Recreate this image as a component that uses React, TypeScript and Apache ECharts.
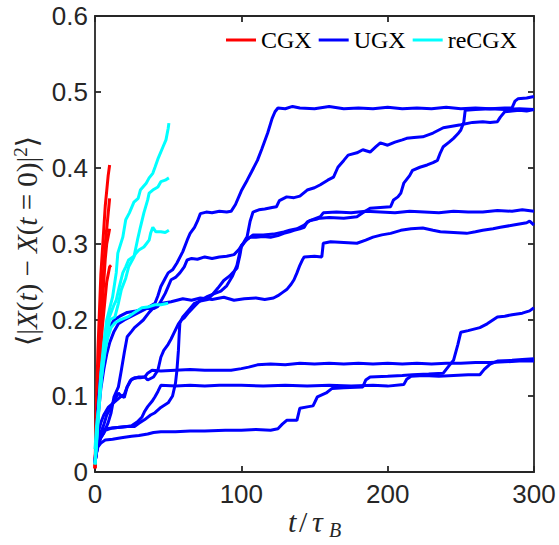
import React, { useEffect, useRef } from "react";
import * as echarts from "echarts";

// ---------- data (t/tau_B, MSD) ----------
const xTicks = [0, 100, 200, 300];
const yTicks = [0, 0.1, 0.2, 0.3, 0.4, 0.5, 0.6];
const legendNames = ["CGX", "UGX", "reCGX"];

const cgx1 = [[0,0.005],[0.5,0.05],[1,0.09],[2,0.16],[3,0.21],[4,0.26],[5,0.29],[6,0.32],[7,0.35],[8,0.37],[9,0.39],[10,0.404]];
const cgx2 = [[0,0.005],[1,0.07],[2,0.12],[3,0.17],[4,0.21],[5,0.24],[6,0.27],[7,0.3],[8,0.32],[9,0.34],[10,0.36]];
const cgx3 = [[0,0.005],[1,0.05],[2,0.09],[3,0.13],[4,0.16],[5,0.19],[6,0.21],[7,0.23],[8,0.25],[9,0.26],[10,0.27],[11,0.272]];
const cgx4 = [[0,0.005],[1,0.06],[2,0.1],[3,0.15],[4,0.19],[5,0.22],[6,0.25],[7,0.28],[8,0.3],[9,0.31],[10,0.32]];

const ugxA = [[0,0.012],[1,0.045],[2,0.07],[3,0.09],[4,0.11],[6,0.135],[8,0.155],[10,0.17],[13,0.185],[16,0.195],[20,0.2],[25,0.205],[30,0.21],[35,0.215],[41,0.222],[43,0.232],[45,0.244],[48,0.255],[50,0.262],[53,0.266],[56,0.275],[60,0.29],[63,0.305],[65,0.314],[68,0.322],[70,0.33],[72,0.34],[76,0.342],[80,0.341],[85,0.343],[90,0.342],[93,0.343],[96,0.352],[100,0.37],[104,0.384],[107,0.395],[111,0.41],[114,0.425],[118,0.446],[121,0.465],[123,0.474],[125,0.479],[130,0.478],[135,0.481],[140,0.479],[150,0.478],[160,0.481],[170,0.478],[180,0.479],[190,0.478],[200,0.48],[210,0.478],[220,0.479],[230,0.478],[240,0.48],[250,0.478],[260,0.479],[270,0.478],[280,0.479],[285,0.479],[287,0.488],[289,0.491],[295,0.492],[300,0.494]];
const ugxB = [[0,0.012],[1,0.05],[2,0.085],[3,0.11],[4,0.13],[6,0.155],[8,0.175],[10,0.19],[13,0.2],[17,0.205],[22,0.21],[28,0.212],[34,0.215],[40,0.215],[43,0.218],[46,0.228],[48,0.235],[50,0.244],[52,0.253],[55,0.256],[58,0.262],[61,0.27],[63,0.279],[66,0.281],[70,0.28],[75,0.283],[80,0.281],[85,0.283],[90,0.284],[95,0.286],[98,0.292],[101,0.3],[104,0.31],[106,0.33],[108,0.342],[112,0.345],[116,0.346],[121,0.348],[124,0.349],[126,0.357],[131,0.362],[136,0.361],[140,0.363],[145,0.371],[150,0.374],[154,0.378],[159,0.384],[163,0.388],[166,0.401],[170,0.41],[173,0.417],[179,0.42],[183,0.424],[188,0.421],[192,0.428],[195,0.433],[200,0.43],[205,0.434],[210,0.437],[213,0.439],[218,0.44],[224,0.441],[231,0.446],[238,0.453],[244,0.455],[250,0.457],[258,0.46],[265,0.461],[270,0.46],[275,0.461],[277,0.467],[280,0.474],[285,0.475],[290,0.476],[295,0.475],[300,0.477]];
const ugxC = [[0,0.012],[1,0.03],[2,0.045],[4,0.053],[7,0.057],[12,0.058],[17,0.059],[22,0.06],[27,0.06],[30,0.064],[34,0.069],[38,0.075],[41,0.078],[45,0.085],[50,0.091],[53,0.1],[55,0.117],[56,0.134],[57,0.16],[57.5,0.18],[58,0.196],[60,0.204],[64,0.213],[68,0.222],[72,0.225],[77,0.227],[80,0.233],[84,0.242],[88,0.252],[92,0.258],[97,0.268],[99,0.285],[100,0.296],[103,0.305],[106,0.309],[110,0.309],[115,0.31],[120,0.309],[125,0.311],[129,0.314],[133,0.316],[136,0.318],[140,0.32],[143,0.322],[145,0.329],[150,0.333],[154,0.336],[156,0.341],[165,0.342],[175,0.341],[185,0.343],[195,0.342],[205,0.341],[215,0.343],[225,0.342],[235,0.341],[245,0.343],[255,0.342],[265,0.342],[275,0.344],[285,0.343],[292,0.345],[300,0.343]];
const ugxD = [[0,0.012],[1,0.025],[2,0.035],[4,0.045],[6,0.051],[9,0.065],[11,0.078],[13,0.099],[16,0.112],[18,0.134],[20,0.157],[22,0.178],[25,0.185],[27,0.19],[30,0.195],[33,0.2],[37,0.21],[41,0.218],[46,0.222],[52,0.224],[60,0.228],[66,0.226],[72,0.229],[80,0.227],[88,0.23],[95,0.226],[102,0.228],[110,0.229],[116,0.227],[122,0.229],[125,0.232],[128,0.236],[131,0.24],[134,0.247],[136,0.253],[138,0.262],[140,0.272],[142,0.28],[143,0.283],[150,0.284],[155,0.283],[156,0.301],[161,0.303],[170,0.302],[179,0.301],[185,0.305],[190,0.309],[196,0.312],[202,0.314],[209,0.318],[216,0.32],[224,0.321],[231,0.318],[236,0.316],[245,0.315],[254,0.314],[260,0.316],[265,0.318],[272,0.32],[277,0.322],[286,0.325],[292,0.327],[295,0.328],[297,0.33],[300,0.325]];
const ugxE = [[0,0.012],[1,0.035],[2,0.05],[4,0.065],[6,0.075],[9,0.085],[12,0.09],[15,0.095],[18,0.1],[20,0.098],[22,0.112],[25,0.122],[30,0.125],[34,0.125],[36,0.121],[40,0.125],[43,0.134],[45,0.151],[47,0.16],[50,0.168],[52,0.175],[54,0.183],[57,0.195],[59,0.2],[61,0.203],[64,0.21],[68,0.218],[72,0.226],[77,0.231],[82,0.235],[86,0.238],[90,0.245],[94,0.258],[97,0.272],[100,0.298],[104,0.306],[108,0.312],[115,0.312],[122,0.313],[129,0.316],[133,0.318],[138,0.32],[143,0.325],[147,0.331],[152,0.333],[154,0.334],[160,0.335],[170,0.334],[179,0.336],[183,0.341],[188,0.347],[195,0.348],[202,0.349],[204,0.358],[207,0.362],[209,0.367],[211,0.38],[215,0.39],[217,0.397],[222,0.401],[227,0.404],[231,0.407],[234,0.41],[236,0.42],[238,0.428],[242,0.434],[245,0.439],[248,0.445],[250,0.45],[252,0.46],[253,0.476],[260,0.477],[270,0.478],[280,0.477],[290,0.478],[300,0.477]];
const ugxL1 = [[0,0.012],[1,0.03],[2,0.04],[4,0.052],[6,0.062],[8,0.075],[10,0.082],[12,0.09],[14,0.097],[16,0.104],[18,0.1],[20,0.102],[22,0.112],[24,0.12],[27,0.124],[31,0.124],[34,0.125],[36,0.13],[39,0.134],[45,0.133],[55,0.134],[65,0.135],[75,0.134],[85,0.134],[93,0.134],[100,0.136],[105,0.138],[111,0.141],[120,0.142],[130,0.141],[140,0.143],[150,0.142],[160,0.143],[170,0.142],[180,0.143],[190,0.142],[200,0.143],[210,0.142],[220,0.143],[230,0.142],[240,0.143],[250,0.143],[260,0.144],[270,0.144],[280,0.145],[290,0.146],[300,0.146]];
const ugxL2 = [[0,0.012],[1,0.025],[2,0.035],[4,0.045],[7,0.055],[12,0.058],[17,0.059],[22,0.06],[25,0.061],[29,0.066],[32,0.072],[34,0.08],[36,0.086],[39,0.093],[41,0.099],[43,0.106],[45,0.114],[55,0.113],[65,0.114],[75,0.113],[85,0.114],[100,0.114],[115,0.113],[130,0.114],[145,0.113],[160,0.114],[175,0.113],[190,0.114],[200,0.113],[211,0.115],[213,0.122],[216,0.126],[225,0.127],[235,0.126],[245,0.127],[255,0.128],[263,0.128],[266,0.135],[270,0.142],[275,0.146],[285,0.147],[292,0.148],[300,0.149]];
const ugxL3 = [[0,0.012],[1,0.025],[2,0.033],[4,0.038],[7,0.042],[12,0.043],[18,0.045],[25,0.047],[30,0.048],[36,0.05],[40,0.052],[45,0.053],[55,0.053],[65,0.054],[75,0.054],[89,0.055],[100,0.055],[110,0.056],[120,0.055],[125,0.057],[128,0.063],[131,0.068],[138,0.068],[140,0.084],[146,0.086],[149,0.087],[152,0.099],[158,0.104],[162,0.11],[170,0.111],[183,0.112],[185,0.121],[188,0.125],[200,0.126],[210,0.127],[217,0.128],[228,0.129],[238,0.13],[242,0.14],[245,0.147],[248,0.168],[250,0.184],[255,0.186],[263,0.19],[268,0.195],[275,0.204],[280,0.205],[285,0.207],[292,0.209],[297,0.212],[300,0.216]];

const recgx1 = [[0,0.01],[1,0.04],[2,0.07],[3,0.1],[4,0.13],[5,0.15],[6,0.17],[8,0.2],[10,0.215],[12,0.23],[14.5,0.262],[15.6,0.288],[19,0.309],[21,0.332],[23.5,0.341],[26.6,0.355],[29.5,0.36],[31,0.371],[35,0.38],[37,0.387],[39.5,0.393],[41,0.401],[43,0.412],[46.5,0.428],[48.5,0.437],[50,0.452],[50.5,0.459]];
const recgx2 = [[0,0.01],[1,0.035],[2,0.065],[3,0.09],[4,0.115],[5,0.135],[6,0.15],[8,0.175],[10,0.2],[13.6,0.204],[16,0.222],[18,0.24],[21,0.255],[23,0.27],[26.6,0.283],[29,0.305],[31,0.322],[33.4,0.341],[36,0.358],[37,0.367],[39.5,0.371],[43,0.375],[45,0.382],[48,0.384],[50.5,0.387]];
const recgx3 = [[0,0.01],[1,0.04],[2,0.07],[3,0.1],[4,0.125],[5,0.145],[7,0.175],[9,0.2],[11,0.21],[13,0.22],[14.5,0.226],[16.5,0.243],[19,0.262],[21,0.27],[23,0.279],[26.6,0.284],[28,0.288],[30,0.292],[33.4,0.296],[35,0.3],[37,0.305],[38,0.314],[39.5,0.322],[41.6,0.316],[45,0.316],[48,0.315],[50.5,0.318]];
const recgx4 = [[0,0.03],[1,0.06],[2.3,0.082],[3.5,0.105],[4.5,0.125],[5.5,0.14],[6.8,0.157],[8,0.17],[9,0.178],[11,0.19],[13.6,0.196],[17,0.2],[22.5,0.204],[27,0.21],[32,0.216],[36,0.217],[41,0.22],[45,0.22],[50,0.222]];

const cgxRuns = [cgx1, cgx2, cgx3, cgx4];
const ugxRuns = [ugxA, ugxB, ugxC, ugxD, ugxE, ugxL1, ugxL2, ugxL3];
const recgxRuns = [recgx1, recgx2, recgx3, recgx4];

const COLORS: Record<string, string> = { CGX: "#ff0000", UGX: "#0000ff", reCGX: "#00ffff" };
const AX = "#262626";
const SERIF = "'Liberation Serif', 'DejaVu Serif', serif";
const SANS = "'Liberation Sans', Arial, sans-serif";

export default function App() {
  const ref = useRef<HTMLDivElement>(null);
  useEffect(() => {
    const chart = echarts.init(ref.current!, null, { renderer: "svg" });
    const mk = (name: string, data: number[][]) => ({
      type: "line",
      name,
      data,
      symbol: "none",
      showSymbol: false,
      smooth: false,
      xAxisIndex: 0,
      yAxisIndex: 0,
      lineStyle: { color: COLORS[name], width: 3 },
      itemStyle: { color: COLORS[name] },
      emphasis: { disabled: true },
    });
    const series = [
      ...cgxRuns.map((d) => mk("CGX", d)),
      ...ugxRuns.map((d) => mk("UGX", d)),
      ...recgxRuns.map((d) => mk("reCGX", d)),
    ];
    const axisCommon = {
      type: "value",
      splitLine: { show: false },
      axisLine: { show: true, onZero: false, lineStyle: { color: AX, width: 1.8 } },
      axisTick: { show: true, inside: true, length: 6, lineStyle: { color: AX, width: 1.8 } },
    };
    const xMin = xTicks[0], xMax = xTicks[xTicks.length - 1], xInt = xTicks[1] - xTicks[0];
    const yMin = yTicks[0], yMax = yTicks[yTicks.length - 1], yInt = 0.1;
    const it = (s: number) => ({ fontFamily: SERIF, fontSize: s, fontStyle: "italic", fill: AX });
    const nt = (s: number) => ({ fontFamily: SERIF, fontSize: s, fill: AX });
    chart.setOption({
      animation: false,
      backgroundColor: "#ffffff",
      grid: { left: 95, right: 25, top: 16, bottom: 73, containLabel: false },
      legend: {
        data: legendNames,
        right: 37,
        top: 23,
        icon: "rect",
        itemWidth: 30,
        itemHeight: 3,
        itemGap: 7,
        selectedMode: false,
        textStyle: { fontFamily: SERIF, fontSize: 24, color: "#000" },
      },
      xAxis: [
        {
          ...axisCommon, position: "bottom", min: xMin, max: xMax, interval: xInt,
          axisLabel: { color: AX, fontSize: 26, fontFamily: SANS, margin: 9 },
        },
        {
          ...axisCommon, position: "top", min: xMin, max: xMax, interval: xInt,
          axisLabel: { show: false },
        },
      ],
      yAxis: [
        {
          ...axisCommon, position: "left", min: yMin, max: yMax, interval: yInt,
          axisLabel: {
            color: AX, fontSize: 26, fontFamily: SANS, margin: 7,
            formatter: (v: number) => (v === 0 ? "0" : v.toFixed(1)),
          },
        },
        {
          ...axisCommon, position: "right", min: yMin, max: yMax, interval: yInt,
          axisLabel: { show: false },
        },
      ],
      graphic: [
        {
          type: "text",
          x: 27,
          y: 241,
          rotation: Math.PI / 2,
          style: {
            text: "{n|⟨|}{i|X}{n|(}{i|t}{n|) − }{i|X}{n|(}{i|t}{n| = 0)|}{s|2}{n|⟩}",
            align: "center",
            verticalAlign: "middle",
            fill: AX,
            rich: {
              n: { ...nt(29), lineHeight: 32 },
              i: { ...it(29), lineHeight: 32 },
              s: { ...nt(19), lineHeight: 32, verticalAlign: "top" },
            },
          },
        },
        { type: "text", x: 288, y: 521, style: { text: "t", align: "left", verticalAlign: "middle", ...it(30) } },
        { type: "text", x: 299, y: 521, style: { text: "/", align: "left", verticalAlign: "middle", ...nt(30) } },
        { type: "text", x: 312, y: 521, style: { text: "τ", align: "left", verticalAlign: "middle", ...it(30) } },
        { type: "text", x: 329, y: 530, style: { text: "B", align: "left", verticalAlign: "middle", ...it(20) } },
      ],
      series,
    });
    return () => chart.dispose();
  }, []);
  return (
    <div
      ref={ref}
      style={{ position: "fixed", left: 0, top: 0, width: 559, height: 545, background: "#fff" }}
    />
  );
}
